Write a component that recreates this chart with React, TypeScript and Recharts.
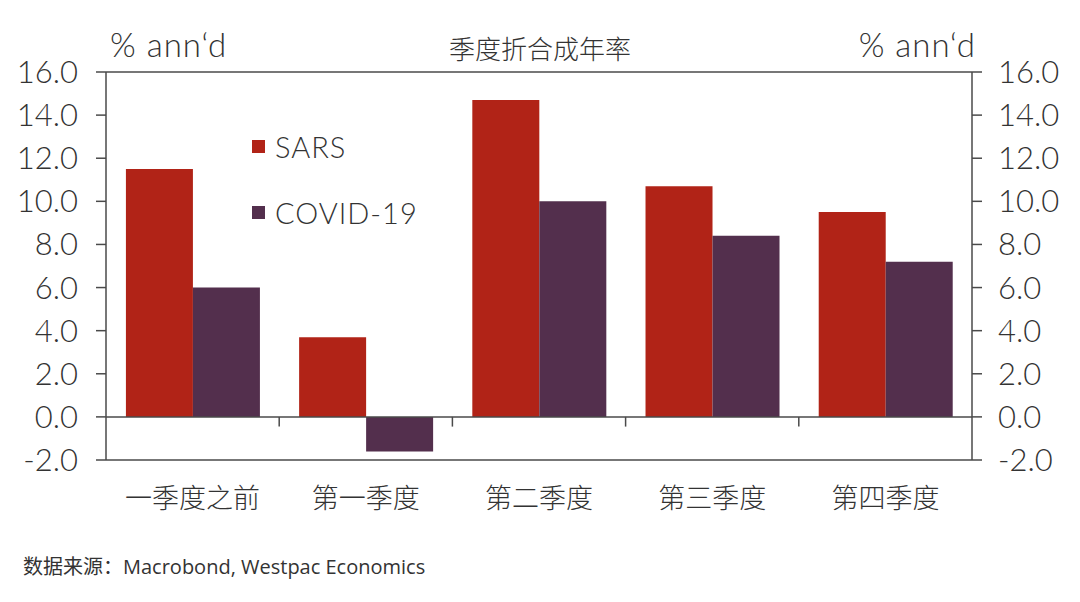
import React from 'react';
import { Bar, BarChart, ReferenceLine, XAxis, YAxis } from 'recharts';

const quarters = ['一季度之前', '第一季度', '第二季度', '第三季度', '第四季度'];
const sarsValues = [11.5, 3.7, 14.7, 10.7, 9.5];
const covidValues = [6.0, -1.6, 10.0, 8.4, 7.2];
const yTicks = [-2, 0, 2, 4, 6, 8, 10, 12, 14, 16];
const seriesNames = ['SARS', 'COVID-19'];

const data = quarters.map((q, i) => ({ q, sars: sarsValues[i], covid: covidValues[i] }));

const SARS_RED = '#b12317';
const COVID_PURPLE = '#532f4d';
const AXIS = '#4a4a4a';
const TEXT = '#333';
const LATIN = 'Lato, "Noto Sans", sans-serif';
const CJK = '"Noto Sans CJK SC", sans-serif';

function QuarterTick({ x, y, payload }: any) {
  return (
    <text x={x} y={y + 28} textAnchor="middle" dominantBaseline="central" fontFamily={CJK} fontWeight={300} fontSize={27} fill={TEXT}>
      {payload.value}
    </text>
  );
}

export default function App() {
  const tickStyle = { fontFamily: LATIN, fontSize: 31, fontWeight: 300, fill: TEXT };
  const colors = [SARS_RED, COVID_PURPLE];
  return (
    <div style={{ position: 'absolute', left: 0, top: 0, width: 1080, height: 602, background: '#fff' }}>
      <div style={{ position: 'absolute', left: 0, width: 1080, top: 30, textAlign: 'center', fontFamily: CJK, fontWeight: 300, fontSize: 26, color: TEXT, lineHeight: '36px' }}>
        季度折合成年率
      </div>
      <div style={{ position: 'absolute', left: 110, top: 26, fontFamily: LATIN, fontWeight: 300, fontSize: 33, letterSpacing: 1, color: TEXT, lineHeight: '36px' }}>% ann‘d</div>
      <div style={{ position: 'absolute', right: 104, top: 26, fontFamily: LATIN, fontWeight: 300, fontSize: 33, letterSpacing: 1, color: TEXT, lineHeight: '36px' }}>% ann‘d</div>
      <BarChart
        width={1080}
        height={602}
        data={data}
        margin={{ top: 72, right: 0, bottom: 0, left: 0 }}
        barCategoryGap="11.5%"
        barGap={0}
      >
        <XAxis dataKey="q" height={142} axisLine={{ stroke: AXIS, strokeWidth: 1.5 }} tickLine={false} tick={<QuarterTick />} interval={0} />
        <YAxis
          yAxisId="left"
          width={106}
          domain={[-2, 16]}
          ticks={yTicks}
          interval={0}
          tickFormatter={(v: number) => v.toFixed(1)}
          tick={tickStyle}
          tickSize={10}
          tickMargin={18}
          axisLine={{ stroke: AXIS, strokeWidth: 1.5 }}
          tickLine={{ stroke: AXIS, strokeWidth: 1.5 }}
        />
        <YAxis
          yAxisId="right"
          orientation="right"
          width={108}
          domain={[-2, 16]}
          ticks={yTicks}
          interval={0}
          tickFormatter={(v: number) => v.toFixed(1)}
          tick={tickStyle}
          tickSize={10}
          tickMargin={16}
          axisLine={{ stroke: AXIS, strokeWidth: 1.5 }}
          tickLine={{ stroke: AXIS, strokeWidth: 1.5 }}
        />
        <ReferenceLine yAxisId="left" y={16} stroke={AXIS} strokeWidth={1.5} />
        <Bar yAxisId="left" dataKey="sars" name={seriesNames[0]} fill={SARS_RED} isAnimationActive={false} />
        <Bar yAxisId="right" dataKey="covid" name={seriesNames[1]} fill={COVID_PURPLE} isAnimationActive={false} />
        <ReferenceLine yAxisId="left" y={0} stroke={AXIS} strokeWidth={1.5} />
        {quarters.slice(0, -1).map((q) => (
          <ReferenceLine
            key={q}
            yAxisId="left"
            position="end"
            segment={[{ x: q, y: 0 }, { x: q, y: -0.45 }]}
            stroke={AXIS}
            strokeWidth={1.5}
          />
        ))}
      </BarChart>
      <div style={{ position: 'absolute', left: 252, top: 113 }}>
        {seriesNames.map((name, i) => (
          <div key={name} style={{ display: 'flex', alignItems: 'center', height: 66, fontFamily: LATIN, fontWeight: 300, fontSize: 29, letterSpacing: 1, color: TEXT }}>
            <span style={{ width: 13, height: 13, background: colors[i], marginRight: 10, display: 'inline-block' }} />
            {name}
          </div>
        ))}
      </div>
      <div style={{ position: 'absolute', left: 23, top: 553, fontSize: 20, color: TEXT, lineHeight: '26px' }}>
        <span style={{ fontFamily: CJK }}>数据来源：</span>
        <span style={{ fontFamily: '"Open Sans", sans-serif' }}>Macrobond, Westpac Economics</span>
      </div>
    </div>
  );
}
